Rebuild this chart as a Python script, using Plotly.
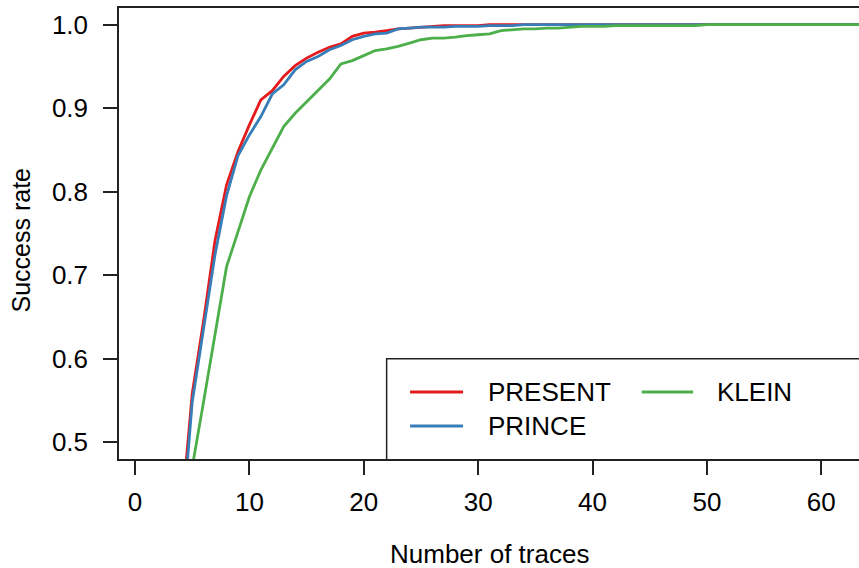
import plotly.graph_objects as go

traces = list(range(1, 71))

present = [0.02, 0.10, 0.25, 0.40, 0.558, 0.646, 0.742, 0.808, 0.848, 0.880,
           0.910, 0.921, 0.938, 0.951, 0.960, 0.967, 0.973, 0.977, 0.986, 0.990,
           0.991, 0.993, 0.995, 0.996, 0.997, 0.998, 0.999, 0.999, 0.999, 0.999,
           1.0, 1.0, 1.0, 1.0, 1.0, 1.0, 1.0, 1.0, 1.0, 1.0,
           1.0, 1.0, 1.0, 1.0, 1.0, 1.0, 1.0, 1.0, 1.0, 1.0,
           1.0, 1.0, 1.0, 1.0, 1.0, 1.0, 1.0, 1.0, 1.0, 1.0,
           1.0, 1.0, 1.0, 1.0, 1.0, 1.0, 1.0, 1.0, 1.0, 1.0]

prince = [0.02, 0.09, 0.23, 0.38, 0.548, 0.635, 0.725, 0.795, 0.843, 0.868,
          0.890, 0.917, 0.928, 0.946, 0.956, 0.962, 0.970, 0.975, 0.982, 0.986,
          0.989, 0.990, 0.995, 0.996, 0.997, 0.997, 0.997, 0.998, 0.998, 0.998,
          0.999, 0.999, 0.999, 1.0, 1.0, 1.0, 1.0, 1.0, 1.0, 1.0,
          1.0, 1.0, 1.0, 1.0, 1.0, 1.0, 1.0, 1.0, 1.0, 1.0,
          1.0, 1.0, 1.0, 1.0, 1.0, 1.0, 1.0, 1.0, 1.0, 1.0,
          1.0, 1.0, 1.0, 1.0, 1.0, 1.0, 1.0, 1.0, 1.0, 1.0]

klein = [0.01, 0.06, 0.18, 0.33, 0.47, 0.549, 0.629, 0.710, 0.752, 0.794,
         0.826, 0.852, 0.878, 0.894, 0.908, 0.922, 0.935, 0.953, 0.957, 0.963,
         0.969, 0.971, 0.974, 0.978, 0.982, 0.984, 0.984, 0.985, 0.987, 0.988,
         0.989, 0.993, 0.994, 0.995, 0.995, 0.996, 0.996, 0.997, 0.998, 0.998,
         0.998, 0.999, 0.999, 0.999, 0.999, 0.999, 0.999, 0.999, 0.999, 1.0,
         1.0, 1.0, 1.0, 1.0, 1.0, 1.0, 1.0, 1.0, 1.0, 1.0,
         1.0, 1.0, 1.0, 1.0, 1.0, 1.0, 1.0, 1.0, 1.0, 1.0]

series_names = ["PRESENT", "PRINCE", "KLEIN"]
series_colors = ["#E41A1C", "#377EB8", "#4DAF4A"]
x_ticks = [0, 10, 20, 30, 40, 50, 60]
y_ticks = [0.5, 0.6, 0.7, 0.8, 0.9, 1.0]
y_tick_labels = ["0.5", "0.6", "0.7", "0.8", "0.9", "1.0"]

FONT = "Liberation Sans, Arial, Helvetica, sans-serif"
AX = "#222222"

fig = go.Figure()
for name, vals, col in zip(series_names, [present, prince, klein], series_colors):
    fig.add_trace(go.Scatter(x=traces, y=vals, mode="lines", name=name,
                             line=dict(color=col, width=2.8), showlegend=False))

fig.update_layout(
    width=859, height=568,
    margin=dict(l=119, r=0, t=8, b=109),
    paper_bgcolor="white", plot_bgcolor="white",
    font=dict(family=FONT, size=26, color="black"),
    xaxis=dict(range=[-1.40, 63.3], tickvals=x_ticks, ticks="outside", ticklen=14,
               tickwidth=1.5, tickcolor=AX, showline=True, linecolor=AX, linewidth=1.5,
               mirror=True, showgrid=False, zeroline=False,
               tickfont=dict(family=FONT, size=26), ticklabelstandoff=5),
    yaxis=dict(range=[0.48, 1.02], tickvals=y_ticks, ticktext=y_tick_labels,
               ticks="outside", ticklen=14, tickwidth=1.5, tickcolor=AX,
               showline=True, linecolor=AX, linewidth=1.5, mirror=False,
               showgrid=False, zeroline=False,
               tickfont=dict(family=FONT, size=26), ticklabelstandoff=10),
)

# axis titles
fig.add_annotation(text="Number of traces", xref="paper", yref="paper", x=0.5, y=0,
                   xanchor="center", yanchor="middle", yshift=-95, showarrow=False,
                   borderpad=0, font=dict(family=FONT, size=26))
fig.add_annotation(text="Success rate", xref="paper", yref="paper", x=0, y=0.5,
                   xanchor="center", yanchor="middle", xshift=-99, yshift=-7,
                   textangle=-90, showarrow=False, borderpad=0,
                   font=dict(family=FONT, size=25))

# legend box (manual, R-style)
fig.add_shape(type="rect", xref="x", yref="y", x0=22.0, x1=80, y0=0.47, y1=0.600,
              line=dict(color=AX, width=1.5), fillcolor="white", layer="above")
leg_items = [("PRESENT", series_colors[0], 24.05, 28.68, 0.5603, 30.75),
             ("PRINCE", series_colors[1], 24.05, 28.68, 0.5195, 30.75),
             ("KLEIN", series_colors[2], 44.3, 48.8, 0.5603, 50.8)]
for name, col, a, b, yy, tx in leg_items:
    fig.add_shape(type="line", xref="x", yref="y", x0=a, x1=b, y0=yy, y1=yy,
                  line=dict(color=col, width=3), layer="above")
    fig.add_annotation(text=name, xref="x", yref="y", x=tx, y=yy, xanchor="left",
                       yanchor="middle", showarrow=False, borderpad=0,
                       font=dict(family=FONT, size=26))

fig.write_html("out.html")
